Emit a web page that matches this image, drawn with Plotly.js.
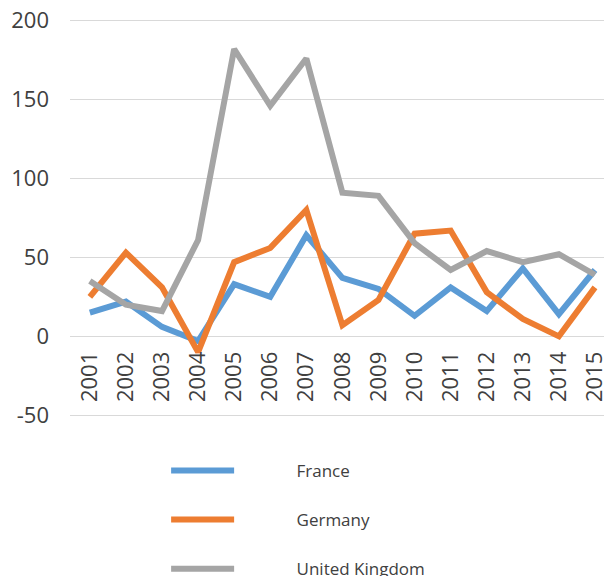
<!DOCTYPE html>
<html>
<head>
<meta charset="utf-8">
<script src="https://cdn.plot.ly/plotly-3.0.1.min.js"></script>
<style>html,body{margin:0;padding:0;background:#fff;}#chart{width:604px;height:576px;}</style>
</head>
<body>
<div id="chart"></div>
<script>
const years = ["2001","2002","2003","2004","2005","2006","2007","2008","2009","2010","2011","2012","2013","2014","2015"];
const france = [15, 22, 6, -3, 33, 25, 64, 37, 30, 13, 31, 16, 43, 14, 42];
const germany = [25, 53, 31, -10, 47, 56, 80, 7, 23, 65, 67, 28, 11, 0, 31];
const uk = [35, 20, 16, 61, 182, 146, 176, 91, 89, 59, 42, 54, 47, 52, 39];
const yTicks = [-50, 0, 50, 100, 150, 200];
const seriesNames = ["France", "Germany", "United Kingdom"];

const pad = "\u00A0".repeat(13);
const traces = [
  {name: seriesNames[0], y: france, color: "#5B9BD5"},
  {name: seriesNames[1], y: germany, color: "#ED7D31"},
  {name: seriesNames[2], y: uk, color: "#A5A5A5"}
].map((t, i) => ({
  type: "scatter", mode: "lines", name: pad + t.name, x: years, y: t.y,
  legendgroup: "g" + i,
  line: {color: t.color, width: 6, shape: "linear"},
  hoverinfo: "skip"
}));

const layout = {
  width: 604, height: 576,
  margin: {l: 70, r: 0, t: 19, b: 156, autoexpand: false},
  paper_bgcolor: "#ffffff", plot_bgcolor: "#ffffff",
  font: {family: "Open Sans, sans-serif", color: "#404040"},
  showlegend: true,
  legend: {
    orientation: "v", x: 0.18, y: -0.082, xanchor: "left", yanchor: "top",
    font: {size: 17, color: "#404040"},
    itemwidth: 63, tracegroupgap: 24, bgcolor: "rgba(0,0,0,0)"
  },
  xaxis: {
    type: "category", range: [-0.55, 14.25],
    anchor: "free", position: 53 / 254,
    showgrid: false, showline: false, zeroline: false, ticks: "",
    tickangle: -90, tickfont: {size: 22, color: "#404040"},
    ticklabelstandoff: 10
  },
  yaxis: {
    range: [-53, 201], tickvals: yTicks, ticktext: yTicks.map(String),
    showgrid: true, gridcolor: "#D9D9D9", gridwidth: 1.5,
    zeroline: false, showline: false, ticks: "",
    tickfont: {size: 22, color: "#404040"},
    ticklabelstandoff: 20
  }
};

Plotly.newPlot("chart", traces, layout, {staticPlot: true, displayModeBar: false});
</script>
</body>
</html>
